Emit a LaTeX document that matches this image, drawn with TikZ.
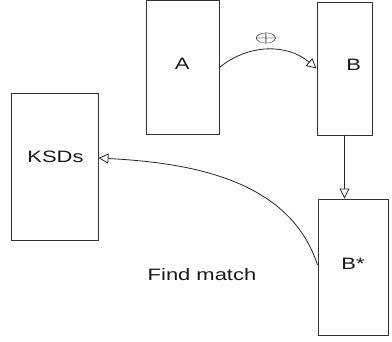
\documentclass[tikz,border=0pt]{standalone}
\usepackage{fontspec}
\setmainfont{Liberation Sans}
\usetikzlibrary{arrows.meta}
\newcommand{\wide}[1]{\scalebox{1.33}[1]{#1}}
\begin{document}
\begin{tikzpicture}[x=1pt,y=-1pt,
  box/.style={draw=black!80, line width=0.9pt, inner sep=0pt, rectangle},
  lbl/.style={font=\fontsize{16.5}{19}\selectfont, inner sep=0pt, text=black!90},
  conn/.style={draw=black!85, line width=0.8pt, -{Triangle[open,length=10pt,width=10pt]}}]
\useasboundingbox (0,0) rectangle (392,341);
\node[box, minimum width=73pt, minimum height=134pt] (A) at (182.5,67.5) {};
\node[box, minimum width=55pt, minimum height=133pt] (B) at (344.5,68.5) {};
\node[box, minimum width=87pt, minimum height=147pt] (K) at (54.5,166.5) {};
\node[box, minimum width=70pt, minimum height=136pt] (Bs) at (353,267) {};
\node[lbl] (tA) at (182.3,64) {\wide{A}};
\node[lbl] (tB) at (353.7,65.3) {\wide{B}};
\node[lbl] (tK) at (55.5,157) {\wide{KSDs}};
\node[lbl] (tBs) at (353,264) {\wide{B*}};
\node[lbl] (fm) at (202,274.5) {\wide{Find match}};
\node[lbl] (op) at (266,38) {\scalebox{1.7}[0.93]{$\oplus$}};
\draw[conn] (A.east) to[bend left=40] (B.west);
\draw[conn] (B.south) -- (B.south |- Bs.north);
\draw[conn] ([yshift=2pt]Bs.west) to[out=108,in=-3,looseness=0.95] ([yshift=8.5pt]K.east);
\end{tikzpicture}
\end{document}
